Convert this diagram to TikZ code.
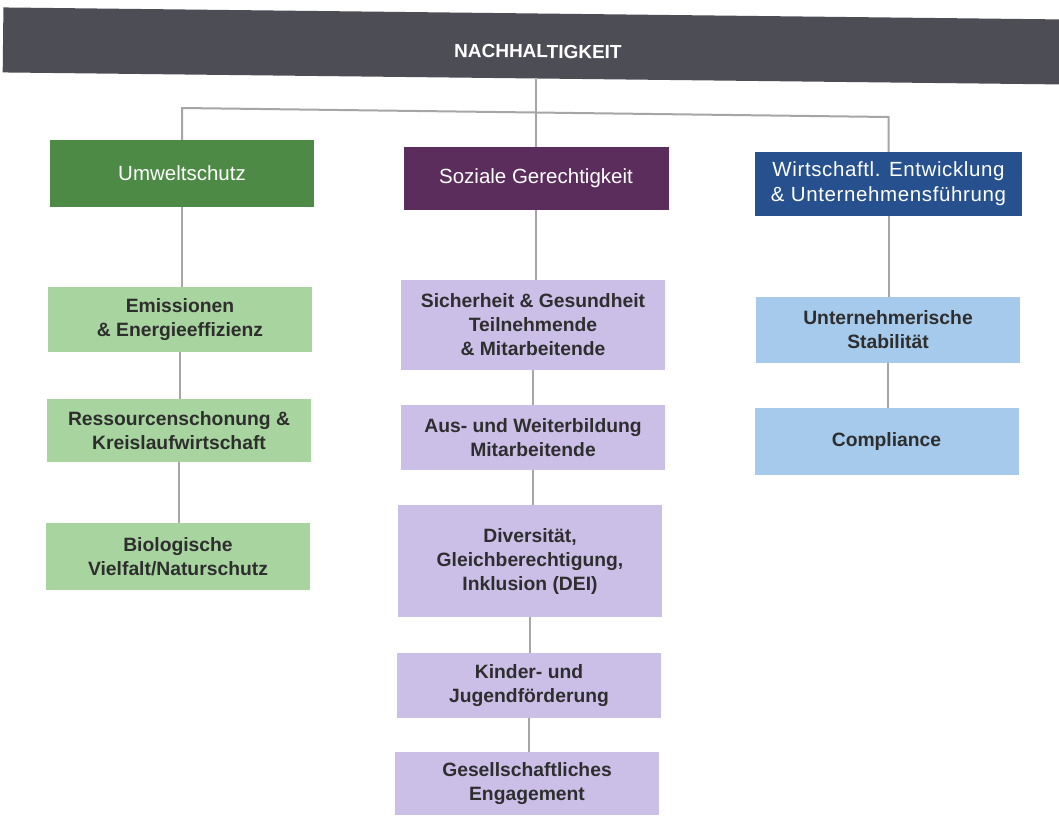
\documentclass[tikz,border=0pt]{standalone}
\usepackage{fontspec}
\setmainfont{Liberation Sans}
\definecolor{barcol}{HTML}{4D4D56}
\definecolor{greenH}{HTML}{4C8A45}
\definecolor{purpleH}{HTML}{5B2D5C}
\definecolor{blueH}{HTML}{27508E}
\definecolor{greenL}{HTML}{A8D4A0}
\definecolor{purpleL}{HTML}{CBBFE8}
\definecolor{blueL}{HTML}{A6CAEC}
\definecolor{linecol}{HTML}{A6A6A6}
\definecolor{txt}{HTML}{2E2E2E}
\tikzset{
  hdr/.style={rectangle, inner sep=0pt, text=white, font=\fontsize{20.5}{25}\selectfont, align=center},
  sub/.style={rectangle, inner sep=0pt, minimum width=264pt, text=txt, font=\bfseries\fontsize{19.3}{24}\selectfont, align=center},
  gsub/.style={sub, fill=greenL},
  psub/.style={sub, fill=purpleL},
  bsub/.style={sub, fill=blueL},
  conn/.style={draw=linecol, line width=2pt}
}
\begin{document}
\begin{tikzpicture}[x=1pt,y=-1pt]
\useasboundingbox (0,0) rectangle (1059,817);
\clip (0,0) rectangle (1059,817);
\fill[white] (0,0) rectangle (1059,817);
% top bar
\node[rectangle, fill=barcol, minimum width=1070pt, minimum height=65pt, inner sep=0pt, text height=24pt, text depth=0pt, rotate=-0.65, text=white, font=\bfseries\fontsize{19}{22}\selectfont] (bar) at (538,46) {NACHHALTIGKEIT};
% headers
\node[hdr, fill=greenH, minimum width=264pt, minimum height=67pt] (umw) at (182,173.5) {Umweltschutz};
\node[hdr, fill=purpleH, minimum width=265pt, minimum height=63pt] (soz) at (536,178.5) {Soziale Gerechtigkeit};
\node[hdr, fill=blueH, minimum width=267pt, minimum height=64pt, font=\addfontfeatures{LetterSpace=3}\fontsize{20.5}{25}\selectfont] (wir) at (888.5,184) {Wirtschaftl. Entwicklung\\\& Unternehmensführung};
% green column
\node[gsub, minimum height=65pt] (emi) at (180,319.5) {Emissionen\\\& Energieeffizienz};
\node[gsub, minimum height=63pt] (res) at (179,430.5) {Ressourcenschonung \&\\Kreislaufwirtschaft};
\node[gsub, minimum height=67pt] (bio) at (178,556.5) {Biologische\\Vielfalt/Naturschutz};
% purple column
\node[psub, minimum height=90pt] (sic) at (533,325) {Sicherheit \& Gesundheit\\Teilnehmende\\\& Mitarbeitende};
\node[psub, minimum height=65pt] (aus) at (533,437.5) {Aus- und Weiterbildung\\Mitarbeitende};
\node[psub, minimum height=112pt] (div) at (530,561) {Diversität,\\Gleichberechtigung,\\Inklusion (DEI)};
\node[psub, minimum height=65pt] (kin) at (529,685.5) {Kinder- und\\Jugendförderung};
\node[psub, minimum height=63pt] (ges) at (527,783.5) {Gesellschaftliches\\Engagement};
% blue column
\node[bsub, minimum height=66pt] (unt) at (888,330) {Unternehmerische\\Stabilität};
\node[bsub, minimum height=67pt] (com) at (886.5,441.5) {Compliance};
% connectors
\coordinate (hl) at (182,108);
\coordinate (hr) at (888.5,117);
\draw[conn] (umw.north) -- (hl) -- (hr) -- (wir.north);
\draw[conn] (soz.north) -- (soz.north |- bar.south);
\draw[conn] (umw.south) -- (umw.south |- emi.north);
\draw[conn] (emi.south) -- (emi.south |- res.north);
\draw[conn] (res.south) -- (res.south |- bio.north);
\draw[conn] (soz.south) -- (soz.south |- sic.north);
\draw[conn] (sic.south) -- (sic.south |- aus.north);
\draw[conn] (aus.south) -- (aus.south |- div.north);
\draw[conn] (div.south) -- (div.south |- kin.north);
\draw[conn] (kin.south) -- (kin.south |- ges.north);
\draw[conn] (wir.south) -- (wir.south |- unt.north);
\draw[conn] (unt.south) -- (unt.south |- com.north);
\end{tikzpicture}
\end{document}
